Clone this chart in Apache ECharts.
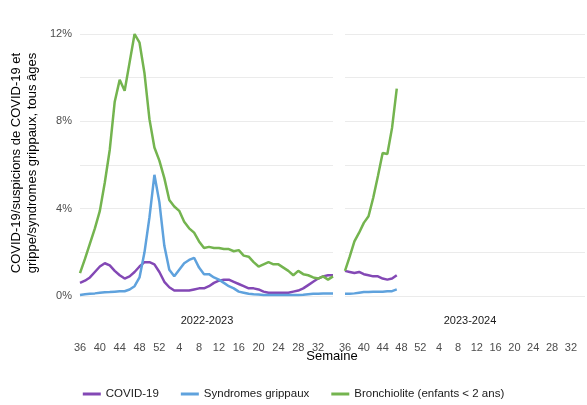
<!DOCTYPE html>
<html>
<head>
<meta charset="utf-8">
<script src="https://cdn.jsdelivr.net/npm/echarts@6/dist/echarts.min.js"></script>
<style>html,body{margin:0;padding:0;background:#fff}#chart{width:587px;height:405px}</style>
</head>
<body>
<div id="chart"></div>
<script>
const weeks = [36,37,38,39,40,41,42,43,44,45,46,47,48,49,50,51,52,1,2,3,4,5,6,7,8,9,10,11,12,13,14,15,16,17,18,19,20,21,22,23,24,25,26,27,28,29,30,31,32,33,34,35];

const covid2223 = [0.6,0.7,0.85,1.1,1.35,1.5,1.4,1.15,0.95,0.8,0.9,1.1,1.35,1.55,1.55,1.45,1.1,0.65,0.4,0.25,0.25,0.25,0.25,0.3,0.35,0.35,0.45,0.6,0.7,0.75,0.75,0.65,0.55,0.45,0.35,0.35,0.3,0.2,0.15,0.15,0.15,0.15,0.15,0.2,0.25,0.35,0.5,0.65,0.8,0.9,0.95,0.95];
const grippe2223 = [0.05,0.08,0.1,0.12,0.15,0.17,0.18,0.2,0.22,0.22,0.3,0.45,0.85,2.0,3.6,5.55,4.3,2.3,1.2,0.9,1.2,1.5,1.65,1.75,1.3,1.0,1.0,0.85,0.75,0.6,0.45,0.35,0.2,0.15,0.1,0.08,0.07,0.05,0.05,0.05,0.05,0.05,0.05,0.05,0.05,0.06,0.08,0.1,0.1,0.12,0.12,0.12];
const bronchio2223 = [1.05,1.7,2.4,3.1,3.9,5.2,6.7,8.9,9.9,9.4,10.7,12.0,11.6,10.2,8.1,6.8,6.2,5.4,4.4,4.1,3.9,3.4,3.1,2.9,2.5,2.2,2.25,2.2,2.2,2.15,2.15,2.05,2.1,1.85,1.8,1.55,1.35,1.45,1.55,1.45,1.45,1.3,1.15,0.95,1.15,1.0,0.95,0.85,0.8,0.9,0.75,0.9];

const covid2324 = [1.15,1.1,1.05,1.1,1.0,0.95,0.9,0.9,0.8,0.75,0.8,0.95];
const grippe2324 = [0.1,0.1,0.12,0.15,0.18,0.18,0.2,0.2,0.2,0.22,0.22,0.3];
const bronchio2324 = [1.15,1.8,2.5,2.9,3.35,3.65,4.5,5.5,6.55,6.5,7.7,9.5];

const names = ['COVID-19', 'Syndromes grippaux', 'Bronchiolite (enfants < 2 ans)'];
const colors = ['#8348b5', '#5fa2dd', '#74b44f'];

const chart = echarts.init(document.getElementById('chart'));

const xAxisBase = (gridIndex) => ({
    type: 'category',
    gridIndex,
    data: weeks,
    boundaryGap: false,
    axisLine: { show: false },
    axisTick: { show: false },
    splitLine: { show: false },
    axisLabel: { interval: 3, color: '#4d4d4d', fontSize: 11, margin: 46, fontFamily: 'Liberation Sans' }
});
const yAxisBase = (gridIndex, showLabels) => ({
    type: 'value',
    gridIndex,
    min: 0,
    max: 12,
    interval: 2,
    axisLine: { show: false },
    axisTick: { show: false },
    splitLine: { lineStyle: { color: '#ebebeb', width: 1 } },
    axisLabel: {
        show: showLabels,
        color: '#4d4d4d',
        fontSize: 11,
        fontFamily: 'Liberation Sans',
        formatter: v => (v % 4 === 0 ? v + '%' : '')
    }
});

const mk = (name, data, idx, color) => ({
    name, type: 'line', data, xAxisIndex: idx, yAxisIndex: idx,
    showSymbol: false, lineStyle: { width: 2.5, color }, itemStyle: { color }
});

chart.setOption({
    animation: false,
    grid: [
        { left: 80, width: 253, top: 34, bottom: 109 },
        { left: 345, width: 240, top: 34, bottom: 109 }
    ],
    xAxis: [xAxisBase(0), xAxisBase(1)],
    yAxis: [yAxisBase(0, true), yAxisBase(1, false)],
    legend: {
        data: names, bottom: 0, left: 'center', icon: 'rect', itemWidth: 18, itemHeight: 3,
        itemGap: 22, textStyle: { color: '#1a1a1a', fontSize: 11.5, fontFamily: 'Liberation Sans' }
    },
    graphic: [
        { type: 'text', style: { text: '2022-2023', x: 207, y: 315, fill: '#1a1a1a', fontSize: 11, fontFamily: 'Liberation Sans', textAlign: 'center' } },
        { type: 'text', style: { text: '2023-2024', x: 470, y: 315, fill: '#1a1a1a', fontSize: 11, fontFamily: 'Liberation Sans', textAlign: 'center' } },
        { type: 'text', style: { text: 'Semaine', x: 332, y: 350, fill: '#000', fontSize: 13, fontFamily: 'Liberation Sans', textAlign: 'center' } },
        { type: 'text', rotation: Math.PI / 2, x: 8, y: 163, style: { text: 'COVID-19/suspicions de COVID-19 et\ngrippe/syndromes grippaux, tous âges', fill: '#000', fontSize: 13, lineHeight: 16, fontFamily: 'Liberation Sans', textAlign: 'center', textVerticalAlign: 'top' } }
    ],
    series: [
        mk(names[0], covid2223, 0, colors[0]),
        mk(names[1], grippe2223, 0, colors[1]),
        mk(names[2], bronchio2223, 0, colors[2]),
        mk(names[0], covid2324, 1, colors[0]),
        mk(names[1], grippe2324, 1, colors[1]),
        mk(names[2], bronchio2324, 1, colors[2])
    ]
});
</script>
</body>
</html>
